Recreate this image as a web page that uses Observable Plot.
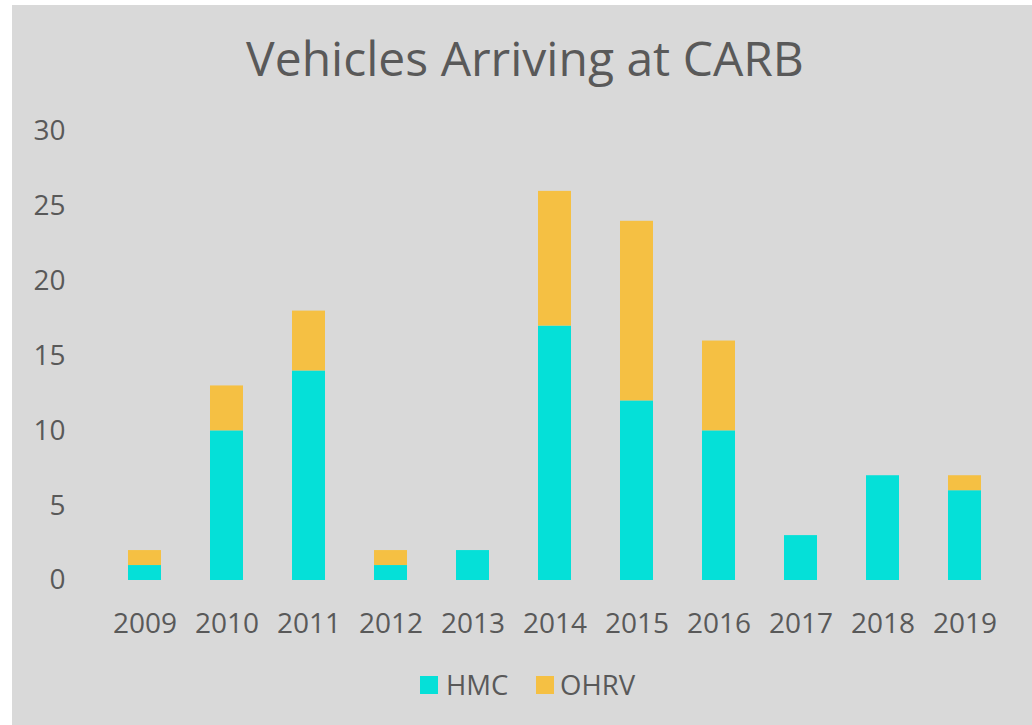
<!DOCTYPE html>
<html>
<head>
<meta charset="utf-8">
<script src="https://cdn.jsdelivr.net/npm/d3@7"></script>
<script src="https://cdn.jsdelivr.net/npm/@observablehq/plot@0.6"></script>
<style>
  body { margin: 0; background: #ffffff; }
  #frame { position: absolute; left: 12px; top: 5px; width: 1020px; height: 720px; background: #d9d9d9; overflow: hidden; font-family: "Open Sans", sans-serif; color: #595959; }
  #title { position: absolute; left: 3px; top: 29px; width: 100%; text-align: center; font-size: 48px; line-height: 1; white-space: nowrap; }
  #chart { position: absolute; left: 0; top: 0; }
  .sw { position: absolute; width: 18px; height: 18px; top: 671px; }
  .lt { position: absolute; top: 666px; font-size: 27.5px; line-height: 1; white-space: nowrap; }
</style>
</head>
<body>
<div id="frame">
  <div id="title">Vehicles Arriving at CARB</div>
  <div id="chart"></div>
  <div id="legend"></div>
</div>
<script>
const years = ["2009","2010","2011","2012","2013","2014","2015","2016","2017","2018","2019"];
const hmc  = [1, 10, 14, 1, 2, 17, 12, 10, 3, 7, 6];
const ohrv = [1,  3,  4, 1, 0,  9, 12,  6, 0, 0, 1];
const seriesNames = ["HMC", "OHRV"];
const seriesColors = ["#05e0d8", "#f5c043"];
const yTicks = [0, 5, 10, 15, 20, 25, 30];

const data = [];
years.forEach((yr, i) => {
  data.push({year: yr, series: "HMC", value: hmc[i]});
  data.push({year: yr, series: "OHRV", value: ohrv[i]});
});

const chart = Plot.plot({
  width: 1020,
  height: 720,
  marginLeft: 106,
  marginRight: 41,
  marginTop: 126,
  marginBottom: 145,
  style: {background: "transparent", fontFamily: "'Open Sans', sans-serif", color: "#595959", fontSize: "28px"},
  x: {domain: years, paddingInner: 0.6, paddingOuter: 0.1, label: null},
  y: {domain: [0, 30], label: null},
  color: {domain: seriesNames, range: seriesColors},
  marks: [
    Plot.barY(data, {x: "year", y: "value", fill: "series", order: seriesNames}),
    Plot.axisX({tickSize: 0, tickPadding: 33, fontSize: 28, fill: "#595959", label: null}),
    Plot.axisY({ticks: yTicks, tickSize: 0, tickPadding: 53, fontSize: 28, fill: "#595959", label: null})
  ]
});
document.getElementById("chart").appendChild(chart);

const legend = document.getElementById("legend");
const swX = [408, 524];
const txX = [434, 548];
seriesNames.forEach((name, i) => {
  const sw = document.createElement("div");
  sw.className = "sw";
  sw.style.left = swX[i] + "px";
  sw.style.background = seriesColors[i];
  legend.appendChild(sw);
  const t = document.createElement("div");
  t.className = "lt";
  t.style.left = txX[i] + "px";
  t.textContent = name;
  legend.appendChild(t);
});
</script>
</body>
</html>
